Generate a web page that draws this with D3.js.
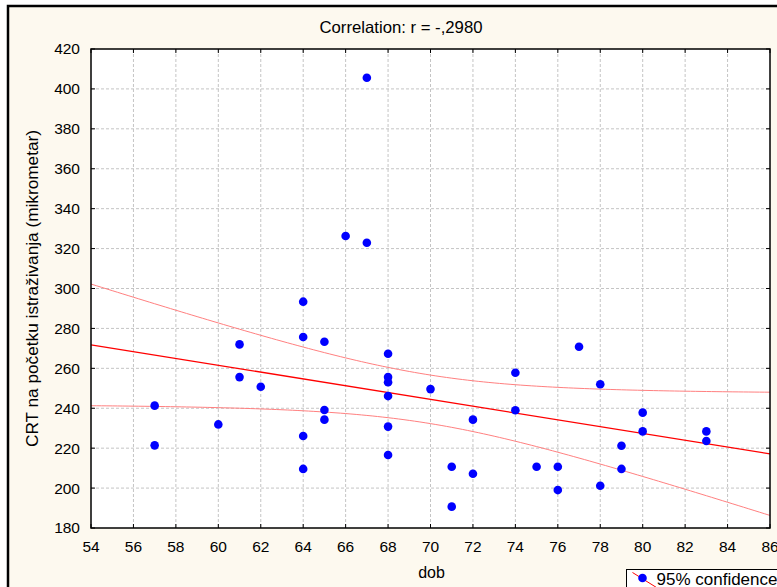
<!DOCTYPE html>
<html lang="en">
<head>
    <meta charset="UTF-8">
    <title>Correlation: dob vs CRT</title>
    <script src="https://d3js.org/d3.v7.min.js"></script>
    <style>
        body {
            margin: 0;
            background-color: #ffffff;
        }

        svg text {
            font-family: "Liberation Sans", Arial, sans-serif;
            fill: #000;
        }

        .grid line {
            stroke: #c4c4c4;
            stroke-dasharray: 3,2;
        }
    </style>
</head>
<body>
    <div id="chart"></div>
    <script>
        // Data
        const dob = [57, 57, 60, 61, 61, 62, 64, 64, 64, 64, 65, 65, 65,
                     66, 67, 67,
                     68, 68, 68, 68, 68, 68, 70, 71, 71, 72, 72, 74, 74, 75, 76, 76,
                     77, 78, 78, 79, 79, 80, 80, 83, 83];
        const crt = [241.3, 221.4, 231.9, 272.0, 255.6, 250.8, 293.4, 275.7, 226.1, 209.6, 273.3, 239.1, 234.3,
                     326.3, 405.6, 322.9,
                     267.3, 255.6, 253.0, 246.1, 230.8, 216.6, 249.6, 210.7, 190.7, 234.3, 207.2, 257.8, 239.0, 210.7, 210.7, 199.0,
                     270.8, 252.0, 201.2, 221.2, 209.6, 237.8, 228.4, 228.4, 223.6];

        const xTicks = d3.range(54, 87, 2);
        const yTicks = d3.range(180, 421, 20);
        const title = "Correlation: r = -,2980";
        const xLabel = "dob";
        const yLabel = "CRT na početku istraživanja (mikrometar)";
        const legendLabel = "95% confidence";

        // t(0.975, n - 2) for n = 41
        const tCrit = 2.0227;

        const W = 777, H = 587;
        const margin = { top: 49, right: 7, bottom: 59, left: 91 };
        const width = W - margin.left - margin.right;
        const height = H - margin.top - margin.bottom;

        const svg = d3.select("#chart")
            .append("svg")
            .attr("width", W)
            .attr("height", H);

        // Outer panel with the thick frame
        svg.append("rect")
            .attr("x", 8).attr("y", 6)
            .attr("width", W + 20).attr("height", H + 20)
            .attr("fill", "#fdf9ef")
            .attr("stroke", "#000")
            .attr("stroke-width", 2.5);

        svg.append("text")
            .attr("x", 401)
            .attr("y", 33)
            .attr("text-anchor", "middle")
            .style("font-size", "16.5px")
            .attr("textLength", 163)
            .attr("lengthAdjust", "spacingAndGlyphs")
            .text(title);

        const g = svg.append("g")
            .attr("transform", `translate(${margin.left},${margin.top})`);

        const x = d3.scaleLinear().domain([54, 86]).range([0, width]);
        const y = d3.scaleLinear().domain([180, 420]).range([height, 0]);

        g.append("rect")
            .attr("width", width)
            .attr("height", height)
            .attr("fill", "#fff");

        // Grid
        const grid = g.append("g").attr("class", "grid");
        grid.selectAll(".gx")
            .data(xTicks.slice(1, -1))
            .join("line")
            .attr("x1", d => x(d)).attr("x2", d => x(d))
            .attr("y1", 0).attr("y2", height);
        grid.selectAll(".gy")
            .data(yTicks.slice(1, -1))
            .join("line")
            .attr("class", "gy")
            .attr("x1", 0).attr("x2", width)
            .attr("y1", d => y(d)).attr("y2", d => y(d));

        // Regression line and 95% confidence band for the mean
        const n = dob.length;
        const mx = d3.mean(dob), my = d3.mean(crt);
        const sxx = d3.sum(dob, d => (d - mx) ** 2);
        const sxy = d3.sum(dob, (d, i) => (d - mx) * (crt[i] - my));
        const slope = sxy / sxx;
        const icpt = my - slope * mx;
        const sse = d3.sum(dob, (d, i) => (crt[i] - (icpt + slope * d)) ** 2);
        const se = Math.sqrt(sse / (n - 2));

        const xs = d3.range(54, 86.01, 0.25);
        const fit = v => icpt + slope * v;
        const half = v => tCrit * se * Math.sqrt(1 / n + (v - mx) ** 2 / sxx);

        const line = d3.line().x(d => x(d[0])).y(d => y(d[1]));

        g.append("path")
            .datum(xs.map(v => [v, fit(v) + half(v)]))
            .attr("d", line)
            .attr("fill", "none")
            .attr("stroke", "#ff8080")
            .attr("stroke-width", 1);
        g.append("path")
            .datum(xs.map(v => [v, fit(v) - half(v)]))
            .attr("d", line)
            .attr("fill", "none")
            .attr("stroke", "#ff8080")
            .attr("stroke-width", 1);
        g.append("path")
            .datum([[54, fit(54)], [86, fit(86)]])
            .attr("d", line)
            .attr("fill", "none")
            .attr("stroke", "#ff0000")
            .attr("stroke-width", 1.3);

        // Points
        g.selectAll(".dot")
            .data(dob.map((d, i) => [d, crt[i]]))
            .join("circle")
            .attr("class", "dot")
            .attr("cx", d => x(d[0]))
            .attr("cy", d => y(d[1]))
            .attr("r", 4.3)
            .attr("fill", "#0000ff");

        // Frame
        g.append("rect")
            .attr("width", width)
            .attr("height", height)
            .attr("fill", "none")
            .attr("stroke", "#000")
            .attr("stroke-width", 1.5);

        // Inward ticks on all four sides
        const tk = 4;
        const ticks = g.append("g").attr("stroke", "#000").attr("stroke-width", 1);
        xTicks.forEach(v => {
            ticks.append("line").attr("x1", x(v)).attr("x2", x(v)).attr("y1", height).attr("y2", height - tk);
            ticks.append("line").attr("x1", x(v)).attr("x2", x(v)).attr("y1", 0).attr("y2", tk);
        });
        yTicks.forEach(v => {
            ticks.append("line").attr("x1", 0).attr("x2", tk).attr("y1", y(v)).attr("y2", y(v));
            ticks.append("line").attr("x1", width).attr("x2", width - tk).attr("y1", y(v)).attr("y2", y(v));
        });

        // Tick labels
        g.selectAll(".xl")
            .data(xTicks)
            .join("text")
            .attr("x", d => x(d))
            .attr("y", height + 24)
            .attr("text-anchor", "middle")
            .style("font-size", "15.5px")
            .text(d => d);
        g.selectAll(".yl")
            .data(yTicks)
            .join("text")
            .attr("x", -11)
            .attr("y", d => y(d))
            .attr("dy", "0.35em")
            .attr("text-anchor", "end")
            .style("font-size", "15.5px")
            .text(d => d);

        // Axis titles
        g.append("text")
            .attr("x", width / 2 + 1)
            .attr("y", height + 50)
            .attr("text-anchor", "middle")
            .style("font-size", "16px")
            .text(xLabel);
        g.append("text")
            .attr("transform", `translate(${-53},${height / 2}) rotate(-90)`)
            .attr("text-anchor", "middle")
            .style("font-size", "16.5px")
            .attr("textLength", 317)
            .attr("lengthAdjust", "spacingAndGlyphs")
            .text(yLabel);

        // Legend (clipped by the picture edge)
        const lg = svg.append("g").attr("transform", "translate(626.5,569.5)");
        lg.append("rect")
            .attr("width", 200).attr("height", 30)
            .attr("fill", "#fff")
            .attr("stroke", "#000")
            .attr("stroke-width", 1);
        lg.append("line")
            .attr("x1", 6).attr("y1", 3)
            .attr("x2", 30).attr("y2", 18)
            .attr("stroke", "#ff0000")
            .attr("stroke-width", 1);
        lg.append("circle")
            .attr("cx", 16).attr("cy", 8.5)
            .attr("r", 4.3)
            .attr("fill", "#0000ff");
        lg.append("text")
            .attr("x", 30)
            .attr("y", 15.5)
            .style("font-size", "17px")
            .text(legendLabel);
    </script>
</body>
</html>
